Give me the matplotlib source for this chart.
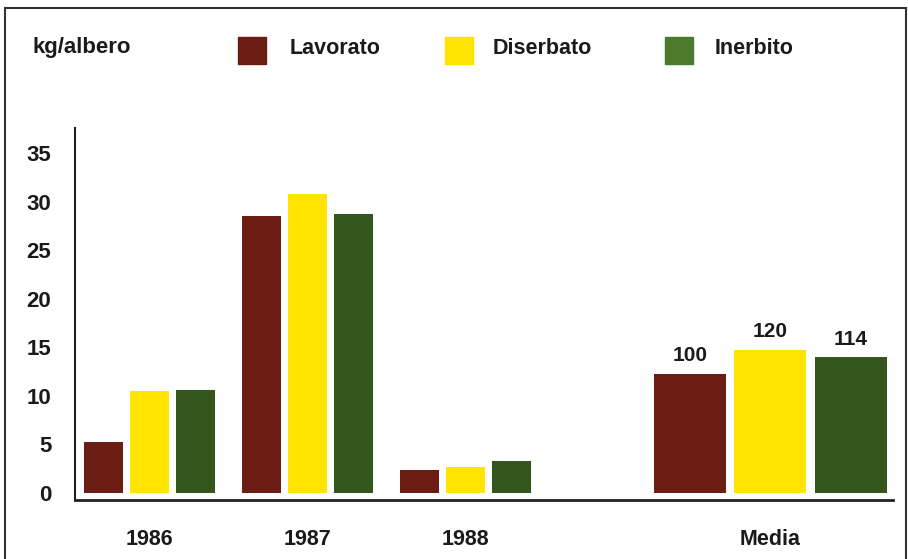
import numpy as np
import matplotlib.pyplot as plt
from matplotlib.patches import Rectangle

plt.rcParams['font.family'] = ['Liberation Sans', 'DejaVu Sans']

# resa per albero (kg) nei tre anni e media
anni = ['1986', '1987', '1988']
lavorato = [5.3, 28.5, 2.4]
diserbato = [10.5, 30.8, 2.7]
inerbito = [10.6, 28.7, 3.25]

media = [12.3, 14.76, 14.0]   # Lavorato, Diserbato, Inerbito
serie = ['Lavorato', 'Diserbato', 'Inerbito']
colori = ['#6b1d14', '#ffe400', '#33561c']
colori_legenda = ['#6b1d14', '#ffe400', '#4b7a2c']
yticks = [0, 5, 10, 15, 20, 25, 30, 35]

W, H = 908, 559
fig = plt.figure(figsize=(W / 100, H / 100), dpi=100)
ax = fig.add_axes([75 / W, 1 - 500 / H, (893 - 75) / W, (500 - 128) / H])

x_anni = np.arange(len(anni))
x_media = 3.93
for i, (vals, col) in enumerate(zip([lavorato, diserbato, inerbito], colori)):
    ax.bar(x_anni + (i - 1) * 0.291, vals, width=0.247, color=col)

# media con indice (Lavorato = 100)
indici = [round(v / media[0] * 100) for v in media]
for i, (v, col) in enumerate(zip(media, colori)):
    b = ax.bar(x_media + (i - 1) * 0.51, v, width=0.456, color=col)
    ax.bar_label(b, labels=[str(indici[i])], padding=6,
                 fontsize=15, fontweight='bold', color='#1a1a1a')

ax.set_xlim(-0.4715, 4.706)
ax.set_ylim(-0.72, 37.57)
ax.set_yticks(yticks)
ax.set_yticklabels([str(t) for t in yticks], fontsize=16, fontweight='bold',
                   color='#1a1a1a')
ax.set_xticks(list(x_anni) + [x_media])
ax.set_xticklabels(anni + ['Media'], fontsize=15.5, fontweight='bold',
                   color='#1a1a1a')
ax.tick_params(axis='y', length=0, pad=17)
ax.tick_params(axis='x', length=0, pad=21)
for s in ['top', 'right']:
    ax.spines[s].set_visible(False)
ax.spines['left'].set_linewidth(1.5)
ax.spines['bottom'].set_linewidth(2)
ax.spines['left'].set_color('#222222')
ax.spines['bottom'].set_color('#222222')

# intestazione e legenda
fig.text(32 / W, 1 - 48 / H, 'kg/albero', fontsize=16, fontweight='bold',
         color='#1a1a1a', va='center', ha='left')
quad_x = [238, 445, 665]
testo_x = [290, 493, 715]
for nome, col, qx, tx in zip(serie, colori_legenda, quad_x, testo_x):
    fig.add_artist(Rectangle((qx / W, 1 - 64 / H), 28 / W, 27 / H,
                             transform=fig.transFigure, color=col))
    fig.text(tx / W, 1 - 49 / H, nome, fontsize=15.5, fontweight='bold',
             color='#1a1a1a', va='center', ha='left')

# cornice
fig.add_artist(Rectangle((5 / W, -0.05), (906 - 5) / W, 1.05 - 8 / H,
                         transform=fig.transFigure, fill=False,
                         edgecolor='#333333', linewidth=1.5))

fig.savefig('out.png', dpi=100)
